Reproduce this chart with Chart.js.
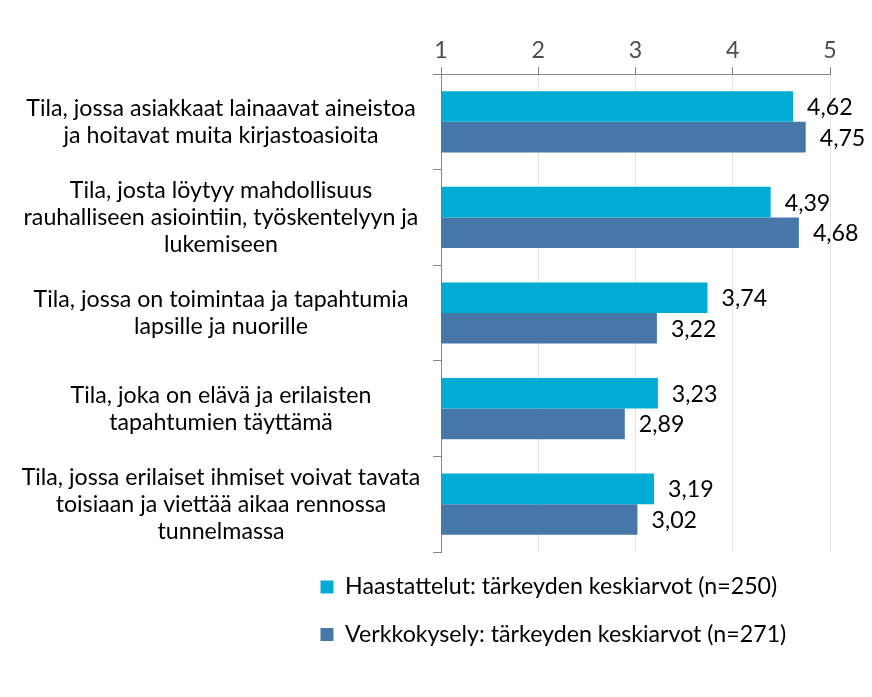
<!DOCTYPE html>
<html><head><meta charset="utf-8">
<style>html,body{margin:0;padding:0;background:#fff;}#wrap{width:872px;height:697px;}</style>
<script src="https://cdn.jsdelivr.net/npm/chart.js@4.4.0/dist/chart.umd.min.js"></script>
</head><body><div id="wrap"><canvas id="c" width="872" height="697"></canvas></div>
<script>
const categories = [
  ["Tila, jossa asiakkaat lainaavat aineistoa", "ja hoitavat muita kirjastoasioita"],
  ["Tila, josta löytyy mahdollisuus", "rauhalliseen asiointiin, työskentelyyn ja", "lukemiseen"],
  ["Tila, jossa on toimintaa ja tapahtumia", "lapsille ja nuorille"],
  ["Tila, joka on elävä ja erilaisten", "tapahtumien täyttämä"],
  ["Tila, jossa erilaiset ihmiset voivat tavata", "toisiaan ja viettää aikaa rennossa", "tunnelmassa"]
];
const seriesNames = ["Haastattelut: tärkeyden keskiarvot (n=250)", "Verkkokysely: tärkeyden keskiarvot (n=271)"];
const haastattelut = [4.62, 4.39, 3.74, 3.23, 3.19];
const verkkokysely = [4.75, 4.68, 3.22, 2.89, 3.02];
const xTicks = [1, 2, 3, 4, 5];

const FAMILY = 'Lato, "DejaVu Sans", sans-serif';
const mc = document.createElement('canvas').getContext('2d');
function tw(t, s) { mc.font = s + 'px ' + FAMILY; return mc.measureText(t).width; }
const fs = Math.round(20 * 399 / tw("Tila, jossa erilaiset ihmiset voivat tavata", 20) * 10) / 10;
let widest = 0;
categories.forEach(c => c.forEach(l => { widest = Math.max(widest, tw(l, fs)); }));
const Y_RIGHT = 441, Y_TICK = 8, LABEL_CENTER = 221;
const yPad = Math.max(2, Y_RIGHT - Y_TICK - LABEL_CENTER - widest / 2);
const legPad = 47.5 - fs;
const legendHeight = 2 * (fs + legPad) + 10;

const valueLabels = {
  id: 'valueLabels',
  afterDatasetsDraw(chart) {
    const ctx = chart.ctx;
    ctx.save();
    ctx.font = fs + 'px ' + FAMILY;
    ctx.fillStyle = '#000';
    ctx.textAlign = 'left';
    ctx.textBaseline = 'middle';
    chart.data.datasets.forEach((ds, i) => {
      chart.getDatasetMeta(i).data.forEach((bar, j) => {
        ctx.fillText(ds.data[j].toFixed(2).replace('.', ','), bar.x + 14, bar.y + 1);
      });
    });
    ctx.restore();
  }
};
const legendPlace = {
  id: 'legendPlace',
  afterLayout(chart) {
    const l = chart.legend;
    l.left = 320.5 - legPad;
    l.top = 587 - legPad - fs / 2;
    l.bottom = l.top + l.height;
  }
};

new Chart(document.getElementById('c'), {
  type: 'bar',
  data: {
    labels: categories,
    datasets: [
      { label: seriesNames[0], data: haastattelut, backgroundColor: '#00abd4', borderWidth: 0 },
      { label: seriesNames[1], data: verkkokysely, backgroundColor: '#4677a8', borderWidth: 0 }
    ]
  },
  options: {
    indexAxis: 'y',
    responsive: false,
    animation: false,
    devicePixelRatio: 1,
    categoryPercentage: 0.64,
    barPercentage: 1,
    layout: { padding: { top: 75 - (7 + 1.2 * fs + 6) - 1, right: 42, bottom: 697 - 552 - legendHeight, left: 0 } },
    scales: {
      x: {
        type: 'linear', position: 'top', min: 1, max: 5,
        afterBuildTicks(s) { s.ticks = xTicks.map(v => ({ value: v })); },
        ticks: { color: '#4d4d4d', font: { family: FAMILY, size: fs }, padding: 3 },
        grid: { color: '#e3e3e3', tickColor: '#868686', tickLength: 7 },
        border: { color: '#868686' }
      },
      y: {
        position: 'left',
        afterFit(s) { s.width = Y_RIGHT; },
        ticks: { crossAlign: 'center', padding: yPad, color: '#000', font: { family: FAMILY, size: fs, lineHeight: 27 / fs } },
        grid: { drawOnChartArea: false, tickColor: '#868686', tickLength: Y_TICK },
        border: { color: '#868686' }
      }
    },
    plugins: {
      tooltip: { enabled: false },
      legend: {
        position: 'bottom', align: 'start',
        labels: { boxWidth: 13, boxHeight: 13, padding: legPad, color: '#000', font: { family: FAMILY, size: fs } }
      }
    }
  },
  plugins: [valueLabels, legendPlace]
});
</script></body></html>
